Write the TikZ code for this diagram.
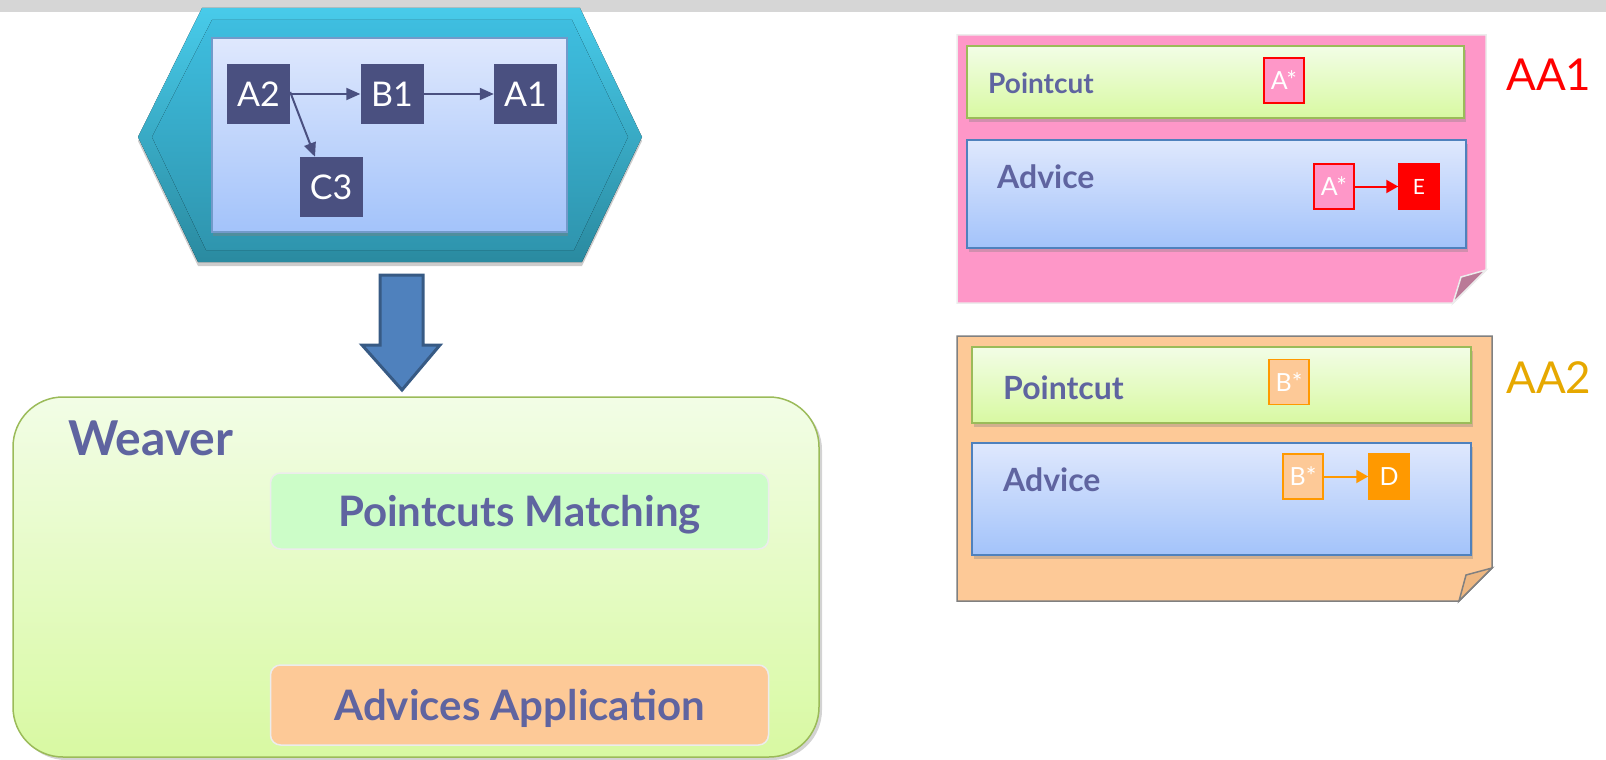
\documentclass[tikz,border=0pt]{standalone}
\usepackage{fontspec}
\setmainfont{Lato}
\usetikzlibrary{shadows,arrows.meta}
\definecolor{navybox}{HTML}{4A5080}
\definecolor{labelblue}{HTML}{5F64A0}
\definecolor{pinkpanel}{HTML}{FE97C8}
\definecolor{peach}{HTML}{FDC997}
\definecolor{amber}{HTML}{FF9900}
\definecolor{gold}{HTML}{E6A800}
\definecolor{leafline}{HTML}{9BBB59}
\definecolor{leaftop}{HTML}{F2FDE6}
\definecolor{leafbot}{HTML}{D8F9A2}
\definecolor{skyline}{HTML}{4F81BD}
\definecolor{skytop}{HTML}{DFE8FD}
\definecolor{skybot}{HTML}{A3C3FA}
\definecolor{tealtop}{HTML}{48CBEA}
\definecolor{tealbot}{HTML}{2A8AA0}
\definecolor{facetop}{HTML}{3EBEE0}
\definecolor{facebot}{HTML}{2F95AE}
\definecolor{mintfill}{HTML}{CCFDC8}
\begin{document}
\begin{tikzpicture}
	[x=1pt,y=-1pt,
	task/.style={rectangle,fill=navybox,text=white,minimum width=63pt,minimum height=60pt,inner sep=0pt,font=\fontsize{34}{34}\selectfont},
	flow/.style={draw=navybox,line width=2pt,-{Triangle[length=14pt,width=12pt]}},
	cutbox/.style={rectangle,draw=leafline,line width=1.5pt,top color=leaftop,bottom color=leafbot,inner sep=0pt,drop shadow={opacity=.35,shadow xshift=2pt,shadow yshift=-4pt}},
	advbox/.style={rectangle,draw=skyline,line width=1.5pt,top color=skytop,bottom color=skybot,inner sep=0pt,drop shadow={opacity=.35,shadow xshift=2pt,shadow yshift=-4pt}},
	caption/.style={anchor=base west,text=labelblue,inner sep=0pt,font=\bfseries\fontsize{32}{32}\selectfont},
	joint/.style={rectangle,line width=1.5pt,text=white,minimum width=40pt,minimum height=45pt,inner sep=0pt,font=\fontsize{25}{25}\selectfont},
	stage/.style={rectangle,rounded corners=10pt,draw=white!85!gray,line width=1.5pt,minimum width=498pt,inner sep=0pt,text=labelblue,text depth=0pt,font=\bfseries\fontsize{42}{42}\selectfont}
	]
	\useasboundingbox (0,0) rectangle (1606,760);
	\fill[gray!32] (0,0) rectangle (1606,12);
	% program model
	\fill[drop shadow={opacity=.4,shadow xshift=0pt,shadow yshift=-4pt},top color=tealtop,bottom color=tealbot] (202,8) -- (580,8) -- (642,137) -- (582,262) -- (198,262) -- (138,137) -- cycle;
	\fill[top color=facetop,bottom color=facebot] (212,20) -- (572,20) -- (628,137) -- (574,250) -- (206,250) -- (152,137) -- cycle;
	\node[rectangle,draw=skyline!80!white,line width=1.5pt,top color=skytop,bottom color=skybot,minimum width=355pt,minimum height=194pt,drop shadow={opacity=.4,shadow xshift=1pt,shadow yshift=-4pt}] (model) at (389.5,135){};
	\node[task] (a2) at (258.5,94){A2};
	\node[task] (b1) at (392,94){B1};
	\node[task] (a1) at (525.5,94){A1};
	\node[task] (c3) at (331,187){C3};
	\draw[flow] (a2.east) -- (b1.west);
	\draw[flow] (b1.east) -- (a1.west);
	\draw[flow] ([yshift=2pt]a2.east) -- ([xshift=-16pt]c3.north);
	% weaving arrow
	\draw[draw=skyline!70!black,line width=3pt,fill=skyline,line join=miter] (380,275) -- (423,275) -- (423,345) -- (440,345) -- (402,390) -- (362,345) -- (380,345) -- cycle;
	% weaver
	\draw[rounded corners=50pt,draw=leafline,line width=1.5pt,top color=leaftop,bottom color=leafbot,drop shadow={opacity=.35,shadow xshift=3pt,shadow yshift=-3pt}] (13,397) rectangle (819,757);
	\node[caption,font=\bfseries\fontsize{48}{48}\selectfont] (weaver) at (68,455){Weaver};
	\node[stage,fill=mintfill,minimum height=76pt] (match) at (519.5,511){Pointcuts Matching};
	\node[stage,fill=peach,minimum height=80pt] (apply) at (519.5,705){Advices Application};
	% aspect AA1
	\draw[draw=white!85!gray,line width=1.5pt,fill=pinkpanel] (957,35) -- (1486,35) -- (1486,270) -- (1453,303) -- (957,303) -- cycle;
	\draw[draw=white!85!gray,line width=1.5pt,fill=pinkpanel!70!black!90] (1486,270) -- (1453,303) -- (1461,277) -- cycle;
	\node[cutbox,minimum width=497pt,minimum height=72pt] (cut1) at (1215.5,82){};
	\node[advbox,minimum width=499pt,minimum height=108pt] (adv1) at (1216.5,194){};
	\node[caption,font=\bfseries\fontsize{28}{28}\selectfont] (cutlbl1) at (988,93){Pointcut};
	\node[caption] (advlbl1) at (997,188){Advice};
	\node[joint,draw=red,fill=pinkpanel] (pa1) at (1284,80.5){A*};
	\node[joint,draw=red,fill=pinkpanel] (aa1) at (1334,186.5){A*};
	\node[joint,draw=red,fill=red,font=\fontsize{21}{21}\selectfont] (e1) at (1419,186.5){E};
	\draw[red,line width=2pt,-{Triangle[length=12pt,width=13pt]}] (aa1.east) -- (e1.west);
	\node[anchor=base west,text=red,inner sep=0pt,font=\fontsize{44}{44}\selectfont] (name1) at (1506,91){AA1};
	% aspect AA2
	\draw[draw=gray,line width=1.5pt,fill=peach] (957,336) -- (1492,336) -- (1492,568) -- (1459,601) -- (957,601) -- cycle;
	\draw[draw=gray,line width=1.5pt,fill=peach!75!brown] (1492,568) -- (1459,601) -- (1466,575) -- cycle;
	\node[cutbox,minimum width=499pt,minimum height=76pt] (cut2) at (1221.5,385){};
	\node[advbox,minimum width=499pt,minimum height=112pt] (adv2) at (1221.5,499){};
	\node[caption] (cutlbl2) at (1003,399){Pointcut};
	\node[caption] (advlbl2) at (1003,491){Advice};
	\node[joint,draw=amber,fill=peach] (pb2) at (1289,382){B*};
	\node[joint,draw=amber,fill=peach] (ab2) at (1303,476.5){B*};
	\node[joint,draw=amber,fill=amber] (d2) at (1389,476.5){D};
	\draw[amber,line width=2pt,-{Triangle[length=12pt,width=13pt]}] (ab2.east) -- (d2.west);
	\node[anchor=base west,text=gold,inner sep=0pt,font=\fontsize{44}{44}\selectfont] (name2) at (1506,393){AA2};
\end{tikzpicture}
\end{document}
